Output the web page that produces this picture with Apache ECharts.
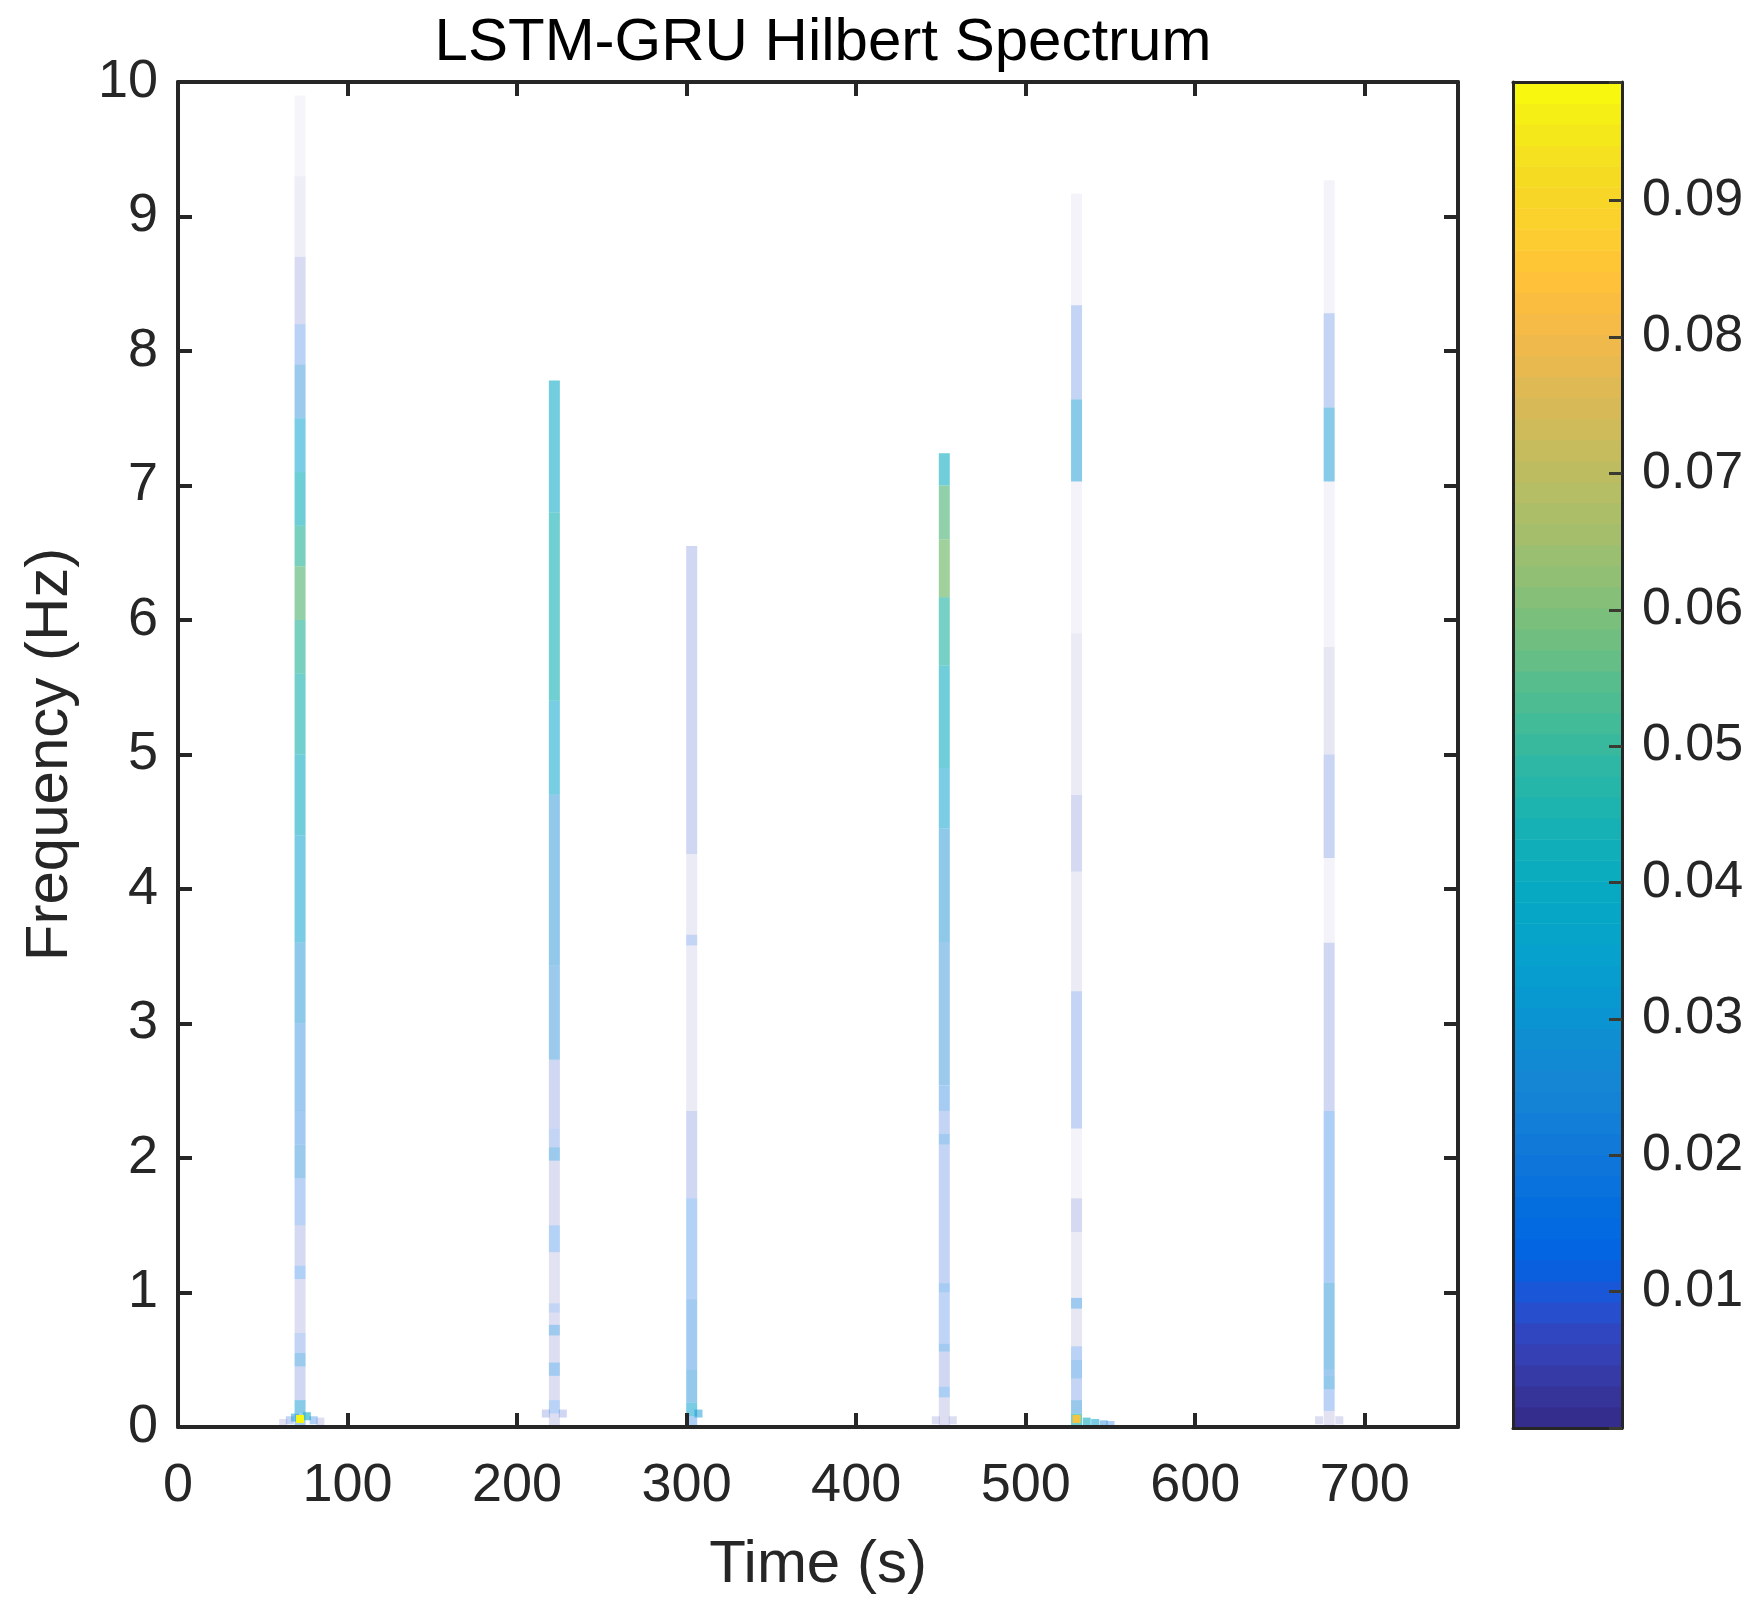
<!DOCTYPE html>
<html>
<head>
<meta charset="utf-8">
<script src="https://cdn.jsdelivr.net/npm/echarts@6/dist/echarts.min.js"></script>
<style>
html,body{margin:0;padding:0;background:#fff;}
#chart{width:1757px;height:1617px;}
</style>
</head>
<body>
<div id="chart"></div>
<script>
// ---------------- data ----------------
const TITLE = 'LSTM-GRU Hilbert Spectrum';
const X_NAME = 'Time (s)';
const Y_NAME = 'Frequency (Hz)';
const VMAX = 0.0987;               // colour-bar upper limit
const X_MAX = 755;

// time instants (s) of the six spectral stripes
const times = [72, 222, 303, 452, 530, 679];

// each stripe: [fLow (Hz), fHigh (Hz), amplitude]
const bands1 = [
  [9.3,9.9,0.0006],[8.7,9.3,0.0015],[8.2,8.7,0.006],[7.9,8.2,0.012],[7.5,7.9,0.024],
  [7.1,7.5,0.034],[6.7,7.1,0.042],[6.4,6.7,0.050],[6.0,6.4,0.057],[5.6,6.0,0.050],
  [5.0,5.6,0.045],[4.4,5.0,0.040],[3.6,4.4,0.035],[3.0,3.6,0.028],[2.35,3.0,0.022],
  [2.1,2.35,0.020],[1.85,2.1,0.024],[1.5,1.85,0.012],[1.2,1.5,0.007],[1.1,1.2,0.014],
  [0.7,1.1,0.005],[0.55,0.7,0.010],[0.45,0.55,0.024],[0.2,0.45,0.008],[0.1,0.2,0.030],
  [0.0,0.1,0.020]
];
const bands2 = [
  [6.8,7.78,0.038],[5.4,6.8,0.044],[4.7,5.4,0.036],[3.43,4.7,0.027],[2.73,3.43,0.024],
  [2.22,2.73,0.008],[2.08,2.22,0.010],[1.98,2.08,0.024],[1.5,1.98,0.005],[1.3,1.5,0.013],
  [0.92,1.3,0.004],[0.85,0.92,0.010],[0.76,0.85,0.005],[0.68,0.76,0.022],[0.48,0.68,0.005],
  [0.38,0.48,0.020],[0.2,0.38,0.005],[0.1,0.2,0.012],[0.0,0.1,0.005]
];
const bands3 = [
  [4.26,6.55,0.008],[3.66,4.26,0.002],[3.58,3.66,0.010],[2.35,3.58,0.002],[1.7,2.35,0.008],
  [0.95,1.7,0.013],[0.43,0.95,0.020],[0.18,0.43,0.026],[0.08,0.18,0.035],[0.0,0.08,0.015]
];
const bands4 = [
  [7.0,7.24,0.040],[6.6,7.0,0.056],[6.17,6.6,0.060],[5.66,6.17,0.048],[4.9,5.66,0.040],
  [4.45,4.9,0.034],[3.6,4.45,0.028],[2.54,3.6,0.024],[2.35,2.54,0.018],[2.18,2.35,0.010],
  [2.1,2.18,0.020],[1.07,2.1,0.010],[1.0,1.07,0.018],[0.62,1.0,0.011],[0.56,0.62,0.020],
  [0.3,0.56,0.008],[0.22,0.3,0.016],[0.0,0.22,0.005]
];
const bands5 = [
  [8.34,9.17,0.0008],[7.64,8.34,0.010],[7.03,7.64,0.030],[5.9,7.03,0.0008],[4.7,5.9,0.002],
  [4.13,4.7,0.007],[3.24,4.13,0.002],[2.22,3.24,0.010],[1.7,2.22,0.0008],[1.45,1.7,0.007],
  [0.96,1.45,0.002],[0.88,0.96,0.022],[0.6,0.88,0.003],[0.5,0.6,0.012],[0.36,0.5,0.020],
  [0.2,0.36,0.010],[0.1,0.2,0.025],[0.0,0.1,0.045]
];
const bands6 = [
  [8.28,9.27,0.0008],[7.58,8.28,0.010],[7.03,7.58,0.030],[5.8,7.03,0.0008],[5.0,5.8,0.003],
  [4.23,5.0,0.009],[3.6,4.23,0.0008],[2.35,3.6,0.008],[1.07,2.35,0.015],[0.43,1.07,0.027],
  [0.38,0.43,0.022],[0.28,0.38,0.026],[0.12,0.28,0.012],[0.0,0.12,0.004]
];
const stripeBands = [bands1, bands2, bands3, bands4, bands5, bands6];

// scattered low-frequency points near the baseline: [time, freq, amplitude]
const splash = [
  [62,0.03,0.004],[66,0.05,0.010],[69,0.07,0.030],[76,0.08,0.040],[80,0.05,0.014],[84,0.04,0.005],
  [72,0.06,0.098],
  [217,0.10,0.008],[227,0.10,0.008],
  [307,0.10,0.030],
  [447,0.05,0.005],[457,0.05,0.005],
  [536,0.04,0.040],[541,0.03,0.035],[546,0.02,0.025],[550,0.015,0.015],[530,0.06,0.085],
  [673,0.05,0.005],[685,0.05,0.005]
];

// colour-bar tick values
const cbTicks = [0.01,0.02,0.03,0.04,0.05,0.06,0.07,0.08,0.09];

// ---------------- styling ----------------
const PARULA_RGB = [
[0.2081,0.1663,0.5292],[0.2116,0.1898,0.5777],[0.2123,0.2138,0.6270],[0.2081,0.2386,0.6771],
[0.1959,0.2645,0.7279],[0.1707,0.2919,0.7792],[0.1253,0.3242,0.8303],[0.0591,0.3598,0.8683],
[0.0117,0.3875,0.8820],[0.0060,0.4086,0.8828],[0.0165,0.4266,0.8786],[0.0329,0.4430,0.8720],
[0.0498,0.4586,0.8641],[0.0629,0.4737,0.8554],[0.0723,0.4887,0.8467],[0.0779,0.5040,0.8384],
[0.0793,0.5200,0.8312],[0.0749,0.5375,0.8263],[0.0641,0.5570,0.8240],[0.0488,0.5772,0.8228],
[0.0343,0.5966,0.8199],[0.0265,0.6137,0.8135],[0.0239,0.6287,0.8038],[0.0231,0.6418,0.7913],
[0.0228,0.6535,0.7768],[0.0267,0.6642,0.7607],[0.0384,0.6743,0.7436],[0.0590,0.6838,0.7254],
[0.0843,0.6928,0.7062],[0.1133,0.7015,0.6859],[0.1453,0.7098,0.6646],[0.1801,0.7177,0.6424],
[0.2178,0.7250,0.6193],[0.2586,0.7317,0.5954],[0.3022,0.7376,0.5712],[0.3482,0.7424,0.5473],
[0.3953,0.7459,0.5244],[0.4420,0.7481,0.5033],[0.4871,0.7491,0.4840],[0.5300,0.7491,0.4661],
[0.5709,0.7485,0.4494],[0.6099,0.7473,0.4337],[0.6473,0.7456,0.4188],[0.6834,0.7435,0.4044],
[0.7184,0.7411,0.3905],[0.7525,0.7384,0.3768],[0.7858,0.7356,0.3633],[0.8185,0.7327,0.3498],
[0.8507,0.7299,0.3360],[0.8824,0.7274,0.3217],[0.9139,0.7258,0.3063],[0.9450,0.7261,0.2886],
[0.9739,0.7314,0.2666],[0.9938,0.7455,0.2403],[0.9990,0.7653,0.2164],[0.9955,0.7861,0.1967],
[0.9880,0.8066,0.1794],[0.9789,0.8271,0.1633],[0.9697,0.8481,0.1475],[0.9626,0.8705,0.1309],
[0.9589,0.8949,0.1132],[0.9598,0.9218,0.0948],[0.9661,0.9514,0.0755],[0.9763,0.9831,0.0538]
];
const PARULA = PARULA_RGB.map(c => 'rgb(' + c.map(x => Math.round(x * 255)).join(',') + ')');

const FONT = '"Liberation Sans", Arial, Helvetica, sans-serif';
const AX = '#262626';
const STRIPE_PX = 11;

// ---------------- build series data ----------------
const stripeData = [];
times.forEach((t, i) => {
  stripeBands[i].forEach(b => stripeData.push([t, b[0], b[1], b[2]]));
});
const NB = PARULA.length;
const cbData = [];
for (let i = 0; i < NB; i++) {
  cbData.push([i * VMAX / NB, (i + 1) * VMAX / NB, (i + 0.5) * VMAX / NB]);
}
function alphaOf(v) { return Math.max(0.02, Math.min(1, Math.pow(v / VMAX, 0.6))); }

const chart = echarts.init(document.getElementById('chart'), null, {renderer: 'canvas'});

function frameAxis(extra) {
  return Object.assign({
    type: 'value', z: 5,
    axisLine: {show: true, onZero: false, lineStyle: {color: AX, width: 4}},
    splitLine: {show: false},
    axisTick: {show: true, inside: true, length: 14, lineStyle: {color: AX, width: 4}},
    axisLabel: {show: false}
  }, extra);
}
const cbLine = {show: true, onZero: false, lineStyle: {color: AX, width: 3}};

const option = {
  backgroundColor: '#ffffff',
  animation: false,
  textStyle: {fontFamily: FONT},
  title: {
    text: TITLE, left: 818, top: 8, textAlign: 'center',
    textStyle: {fontFamily: FONT, fontSize: 60, fontWeight: 'normal', color: '#000'}
  },
  grid: [
    {left: 178, top: 82, width: 1280, height: 1345},
    {left: 1513, top: 82, width: 109, height: 1346}
  ],
  xAxis: [
    frameAxis({gridIndex: 0, min: 0, max: X_MAX, interval: 100, position: 'bottom',
     axisLabel: {show: true, fontSize: 54, color: AX, margin: 32, fontFamily: FONT,
       formatter: v => (v % 100 === 0 ? String(v) : '')},
     name: X_NAME, nameLocation: 'middle', nameGap: 108,
     nameTextStyle: {fontSize: 60, color: AX, fontFamily: FONT}}),
    frameAxis({gridIndex: 0, min: 0, max: X_MAX, interval: 100, position: 'top'}),
    {gridIndex: 1, type: 'value', min: 0, max: 1, position: 'bottom', z: 5,
     axisLine: cbLine, splitLine: {show: false}, axisTick: {show: false}, axisLabel: {show: false}},
    {gridIndex: 1, type: 'value', min: 0, max: 1, position: 'top', z: 5,
     axisLine: cbLine, splitLine: {show: false}, axisTick: {show: false}, axisLabel: {show: false}}
  ],
  yAxis: [
    frameAxis({gridIndex: 0, min: 0, max: 10, interval: 1, position: 'left',
     axisLabel: {show: true, fontSize: 54, color: AX, margin: 20, fontFamily: FONT},
     name: Y_NAME, nameLocation: 'middle', nameGap: 98, nameRotate: 90,
     nameTextStyle: {fontSize: 60, color: AX, fontFamily: FONT}}),
    frameAxis({gridIndex: 0, min: 0, max: 10, interval: 1, position: 'right'}),
    {gridIndex: 1, type: 'value', min: 0, max: VMAX, interval: 0.01, position: 'left', z: 5,
     axisLine: cbLine, splitLine: {show: false}, axisTick: {show: false}, axisLabel: {show: false}},
    {gridIndex: 1, type: 'value', min: 0, max: VMAX, interval: 0.01, position: 'right', z: 5,
     axisLine: cbLine, splitLine: {show: false},
     axisTick: {show: true, inside: true, length: 13, lineStyle: {color: '#3a3a30', width: 3}},
     axisLabel: {fontSize: 52, color: AX, margin: 20, fontFamily: FONT,
       formatter: v => {
         const hit = cbTicks.find(t => Math.abs(t - v) < 1e-6);
         return hit !== undefined ? hit.toFixed(2) : '';
       }}}
  ],
  visualMap: [
    {type: 'continuous', show: false, min: 0, max: VMAX, dimension: 3, seriesIndex: 0, inRange: {color: PARULA}},
    {type: 'continuous', show: false, min: 0, max: VMAX, dimension: 2, seriesIndex: 1, inRange: {color: PARULA}},
    {type: 'continuous', show: false, min: 0, max: VMAX, dimension: 2, seriesIndex: 2, inRange: {color: PARULA}}
  ],
  series: [
    {
      type: 'custom', xAxisIndex: 0, yAxisIndex: 0, z: 2,
      data: stripeData,
      encode: {x: 0, y: [1, 2]},
      renderItem: function (params, api) {
        const t = api.value(0), f0 = api.value(1), f1 = api.value(2), v = api.value(3);
        const pLo = api.coord([t, f0]);
        const pHi = api.coord([t, f1]);
        const col = echarts.color.modifyAlpha(api.visual('color'), alphaOf(v));
        return {
          type: 'rect',
          shape: {x: pLo[0] - STRIPE_PX / 2, y: pHi[1], width: STRIPE_PX, height: pLo[1] - pHi[1]},
          style: {fill: col}
        };
      }
    },
    {
      type: 'custom', xAxisIndex: 0, yAxisIndex: 0, z: 3,
      data: splash,
      encode: {x: 0, y: 1},
      renderItem: function (params, api) {
        const p = api.coord([api.value(0), api.value(1)]);
        const v = api.value(2);
        const col = echarts.color.modifyAlpha(api.visual('color'), alphaOf(v));
        return {type: 'rect', shape: {x: p[0] - 4, y: p[1] - 4, width: 8, height: 8}, style: {fill: col}};
      }
    },
    {
      type: 'custom', xAxisIndex: 2, yAxisIndex: 2, z: 2,
      data: cbData,
      encode: {y: [0, 1]},
      renderItem: function (params, api) {
        const p0 = api.coord([0, api.value(0)]);
        const p1 = api.coord([1, api.value(1)]);
        return {
          type: 'rect',
          shape: {x: p0[0], y: p1[1], width: p1[0] - p0[0], height: p0[1] - p1[1] + 0.6},
          style: {fill: api.visual('color')}
        };
      }
    }
  ]
};
chart.setOption(option);
</script>
</body>
</html>
